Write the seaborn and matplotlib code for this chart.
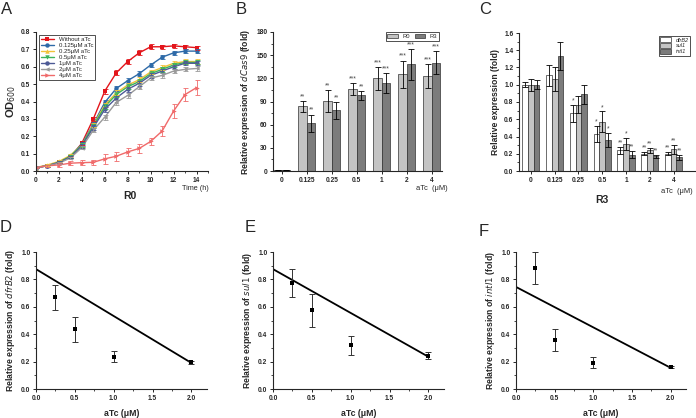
import numpy as np
import pandas as pd
import matplotlib
matplotlib.use('Agg')
import matplotlib.pyplot as plt
import seaborn as sns

# === Data: panel A (growth curves, OD600) ===
time_h = list(range(15))
growth_labels = ['Without aTc', '0.125\u03bcM aTc', '0.25\u03bcM aTc', '0.5\u03bcM aTc',
                 '1\u03bcM aTc', '2\u03bcM aTc', '4\u03bcM aTc']
od_without = [0.02, 0.03, 0.05, 0.08, 0.16, 0.30, 0.46, 0.565, 0.63, 0.68, 0.715, 0.715, 0.72, 0.715, 0.71]
od_0125 = [0.02, 0.03, 0.05, 0.085, 0.155, 0.27, 0.395, 0.475, 0.52, 0.56, 0.61, 0.655, 0.68, 0.69, 0.69]
od_025 = [0.02, 0.035, 0.055, 0.09, 0.15, 0.265, 0.38, 0.45, 0.495, 0.525, 0.57, 0.595, 0.62, 0.63, 0.63]
od_05 = [0.02, 0.03, 0.05, 0.085, 0.15, 0.26, 0.37, 0.44, 0.485, 0.515, 0.56, 0.585, 0.61, 0.625, 0.625]
od_1 = [0.02, 0.03, 0.05, 0.08, 0.145, 0.25, 0.355, 0.42, 0.47, 0.505, 0.55, 0.575, 0.60, 0.62, 0.62]
od_2 = [0.02, 0.03, 0.045, 0.075, 0.135, 0.235, 0.31, 0.395, 0.435, 0.485, 0.535, 0.55, 0.575, 0.585, 0.59]
od_4 = [0.02, 0.03, 0.035, 0.045, 0.048, 0.05, 0.07, 0.085, 0.11, 0.13, 0.17, 0.23, 0.345, 0.44, 0.48]
od_err = [0.005, 0.005, 0.006, 0.008, 0.01, 0.012, 0.014, 0.014, 0.014, 0.015, 0.014, 0.013, 0.012, 0.012, 0.012]
od4_err = [0.005, 0.005, 0.01, 0.012, 0.015, 0.015, 0.03, 0.025, 0.025, 0.025, 0.02, 0.03, 0.04, 0.035, 0.045]

# === Data: panel B (dCas9 expression) ===
atc_cats = ['0', '0.125', '0.25', '0.5', '1', '2', '4']
dcas9_r0 = [1, 84, 91, 106, 120, 125, 123]
dcas9_r3 = [1, 62, 78.5, 98, 114, 138, 140]
dcas9_r0_err = [0, 7, 14, 8, 15, 18, 15]
dcas9_r3_err = [0, 11, 11, 6, 13, 20, 15]
dcas9_r0_sig = ['', '**', '**', '***', '***', '***', '***']
dcas9_r3_sig = ['', '**', '**', '**', '***', '***', '***']

# === Data: panel C (resistance genes in R3) ===
dfrb2 = [1.0, 1.11, 0.67, 0.43, 0.24, 0.20, 0.20]
sul1 = [1.0, 1.07, 0.77, 0.57, 0.31, 0.24, 0.25]
inti1 = [1.0, 1.33, 0.89, 0.36, 0.19, 0.17, 0.16]
dfrb2_err = [0.03, 0.12, 0.10, 0.09, 0.04, 0.02, 0.02]
sul1_err = [0.07, 0.14, 0.10, 0.12, 0.07, 0.03, 0.05]
inti1_err = [0.05, 0.16, 0.11, 0.08, 0.04, 0.02, 0.03]
dfrb2_sig = ['', '', '*', '*', '**', '**', '**']
sul1_sig = ['', '', '', '*', '*', '**', '**']
inti1_sig = ['', '', '', '*', '**', '**', '**']

# === Data: panels D-F (dose response with line) ===
dose = [0.25, 0.5, 1.0, 2.0]
d_vals = [0.67, 0.435, 0.235, 0.195]
d_err = [0.09, 0.09, 0.04, 0.01]
e_vals = [0.775, 0.575, 0.318, 0.242]
e_err = [0.1, 0.12, 0.068, 0.025]
f_vals = [0.885, 0.36, 0.19, 0.16]
f_err = [0.115, 0.08, 0.04, 0.01]
line_x = [0.0, 2.0]
d_line = [0.875, 0.19]
e_line = [0.875, 0.235]
f_line = [0.745, 0.155]

sns.set_style('ticks')
plt.rcParams['font.family'] = ['Liberation Sans', 'DejaVu Sans']
plt.rcParams['axes.linewidth'] = 0.8
plt.rcParams['xtick.major.width'] = 0.7
plt.rcParams['ytick.major.width'] = 0.7
plt.rcParams['xtick.major.size'] = 2.5
plt.rcParams['ytick.major.size'] = 2.5
plt.rcParams['xtick.minor.size'] = 1.5
plt.rcParams['ytick.minor.size'] = 1.5

TICK = 4.8
LAB = 6.2

fig = plt.figure(figsize=(6.96, 4.18), dpi=100)
W, H = 696, 418


def add_ax(l, t, r, b):
    return fig.add_axes([l / W, (H - b) / H, (r - l) / W, (b - t) / H])


def style_ticks(ax):
    for lab in ax.get_xticklabels() + ax.get_yticklabels():
        lab.set_fontsize(TICK)
        lab.set_fontweight('bold')
    ax.tick_params(pad=1.5)
    sns.despine(ax=ax)


# === Panel A ===
axA = add_ax(36, 32, 208, 171)
series = [od_without, od_0125, od_025, od_05, od_1, od_2, od_4]
colorsA = ['#e3151b', '#2e6aa8', '#f2c23a', '#3db35a', '#4d5a96', '#9a9a9a', '#f06a6a']
markersA = ['s', 'o', '^', 'v', 'o', '<', '>']
dfA = pd.DataFrame({'time': time_h * 7,
                    'od': sum(series, []),
                    'cond': sum([[g] * 15 for g in growth_labels], [])})
sns.lineplot(data=dfA, x='time', y='od', hue='cond', style='cond', palette=colorsA,
             markers=markersA, dashes=False, hue_order=growth_labels, style_order=growth_labels,
             linewidth=1.0, markersize=3.2, markeredgewidth=0, ax=axA, legend=True)
for vals, col in zip(series, colorsA):
    err = od4_err if vals is od_4 else od_err
    axA.errorbar(time_h, vals, yerr=err, fmt='none', ecolor=col, elinewidth=0.6, capsize=1.8, capthick=0.6)
axA.set_xlim(0, 15)
axA.set_ylim(0, 0.8)
axA.set_xticks(range(0, 15, 2))
axA.set_yticks(np.arange(0, 0.81, 0.1))
axA.set_yticklabels([f'{v:.1f}' for v in np.arange(0, 0.81, 0.1)])
axA.xaxis.set_minor_locator(matplotlib.ticker.MultipleLocator(1))
axA.set_xlabel('')
axA.set_ylabel('OD$_{600}$', fontsize=8, fontweight='bold', labelpad=2)
leg = axA.legend(loc='upper left', fontsize=4.3, frameon=True, fancybox=False, edgecolor='black',
                 handlelength=2.2, borderpad=0.3, labelspacing=0.15, borderaxespad=0.5)
leg.get_frame().set_linewidth(0.6)
style_ticks(axA)
fig.text(195 / W, 1 - 189 / H, 'Time (h)', fontsize=5.2, ha='center', va='center')
fig.text(130 / W, 1 - 196 / H, 'R0', fontsize=7.5, fontweight='bold', ha='center', va='center')

# === Panel B ===
axB = add_ax(273, 32, 442, 171)
dfB = pd.DataFrame({'conc': atc_cats * 2, 'val': dcas9_r0 + dcas9_r3,
                    'grp': ['R0'] * 7 + ['R3'] * 7})
sns.barplot(data=dfB, x='conc', y='val', hue='grp', order=atc_cats, palette=['#c4c4c4', '#7c7c7c'],
            edgecolor='#333333', linewidth=0.5, width=0.68, errorbar=None, ax=axB)
for cont, errs, sigs in zip(axB.containers, [dcas9_r0_err, dcas9_r3_err], [dcas9_r0_sig, dcas9_r3_sig]):
    xs = [p.get_x() + p.get_width() / 2 for p in cont]
    hs = [p.get_height() for p in cont]
    axB.errorbar(xs, hs, yerr=errs, fmt='none', ecolor='black', elinewidth=0.6, capsize=2, capthick=0.6)
    for x, h, e, s in zip(xs, hs, errs, sigs):
        if s:
            axB.text(x, h + e + 1, s, fontsize=4.8, ha='center', va='bottom', color='#444444')
axB.set_xlim(-0.35, 6.4)
axB.set_ylim(0, 180)
axB.set_yticks(range(0, 181, 30))
axB.yaxis.set_minor_locator(matplotlib.ticker.MultipleLocator(15))
axB.set_xlabel('')
axB.set_ylabel('Relative expression of $\\it{dCas9}$ (fold)', fontsize=LAB, fontweight='bold', labelpad=3)
legB = axB.legend(loc='upper right', ncol=2, fontsize=4.2, frameon=True, fancybox=False, edgecolor='black',
                  handlelength=1.8, handleheight=0.8, borderpad=0.3, columnspacing=0.8,
                  bbox_to_anchor=(1.0, 1.02))
legB.get_frame().set_linewidth(0.6)
style_ticks(axB)
fig.text(432 / W, 1 - 189 / H, 'aTc  (\u03bcM)', fontsize=5.4, ha='center', va='center')

# === Panel C ===
axC = add_ax(519, 33, 695, 171)
genes = ['dfrB2', 'sul1', 'intI1']
dfC = pd.DataFrame({'conc': atc_cats * 3, 'val': dfrb2 + sul1 + inti1,
                    'gene': sum([[g] * 7 for g in genes], [])})
sns.barplot(data=dfC, x='conc', y='val', hue='gene', order=atc_cats, hue_order=genes,
            palette=['#ffffff', '#c4c4c4', '#7c7c7c'], edgecolor='#333333', linewidth=0.5,
            width=0.72, errorbar=None, ax=axC)
for cont, errs, sigs in zip(axC.containers, [dfrb2_err, sul1_err, inti1_err], [dfrb2_sig, sul1_sig, inti1_sig]):
    xs = [p.get_x() + p.get_width() / 2 for p in cont]
    hs = [p.get_height() for p in cont]
    axC.errorbar(xs, hs, yerr=errs, fmt='none', ecolor='black', elinewidth=0.6, capsize=2, capthick=0.6)
    for x, h, e, s in zip(xs, hs, errs, sigs):
        if s:
            axC.text(x, h + e + 0.005, s, fontsize=4.8, ha='center', va='bottom', color='#444444')
axC.set_xlim(-0.5, 6.9)
axC.set_ylim(0, 1.6)
axC.set_yticks(np.arange(0, 1.61, 0.2))
axC.set_yticklabels([f'{v:.1f}' for v in np.arange(0, 1.61, 0.2)])
axC.yaxis.set_minor_locator(matplotlib.ticker.MultipleLocator(0.1))
axC.set_xlabel('')
axC.set_ylabel('Relative expression (fold)', fontsize=LAB, fontweight='bold', labelpad=3)
legC = axC.legend(loc='upper right', frameon=True, fancybox=False, edgecolor='black',
                  handlelength=2.0, handleheight=0.9, borderpad=0.3, labelspacing=0.1,
                  bbox_to_anchor=(0.99, 1.0), prop={'style': 'italic', 'size': 4})
legC.get_frame().set_linewidth(0.6)
style_ticks(axC)
fig.text(677 / W, 1 - 192 / H, 'aTc  (\u03bcM)', fontsize=5.4, ha='center', va='center')
fig.text(602 / W, 1 - 200 / H, 'R3', fontsize=7.5, fontweight='bold', ha='center', va='center')

# === Panels D-F ===
panels = [
    ((36, 252, 207, 389), d_vals, d_err, d_line, 'dfrB2'),
    ((273, 252, 444, 389), e_vals, e_err, e_line, 'sul1'),
    ((516, 252, 686, 389), f_vals, f_err, f_line, 'intI1'),
]
for box, vals, errs, line_y, gene in panels:
    ax = add_ax(*box)
    sns.lineplot(x=line_x, y=line_y, color='black', linewidth=1.3, ax=ax)
    ax.errorbar(dose, vals, yerr=errs, fmt='none', ecolor='#333333', elinewidth=0.7, capsize=2.5, capthick=0.7)
    sns.scatterplot(x=dose, y=vals, marker='s', s=8, color='black', edgecolor='none', ax=ax, zorder=5)
    ax.set_xlim(0, 2.2)
    ax.set_ylim(0, 1.0)
    ax.set_xticks(np.arange(0, 2.01, 0.5))
    ax.set_xticklabels([f'{v:.1f}' for v in np.arange(0, 2.01, 0.5)])
    ax.set_yticks(np.arange(0, 1.01, 0.2))
    ax.set_yticklabels([f'{v:.1f}' for v in np.arange(0, 1.01, 0.2)])
    ax.xaxis.set_minor_locator(matplotlib.ticker.MultipleLocator(0.25))
    ax.yaxis.set_minor_locator(matplotlib.ticker.MultipleLocator(0.1))
    ax.set_xlabel('aTc (\u03bcM)', fontsize=6.3, fontweight='bold', labelpad=5)
    ax.set_ylabel(f'Relative expression of $\\it{{{gene}}}$ (fold)', fontsize=LAB, fontweight='bold', labelpad=3)
    style_ticks(ax)

# === Panel letters ===
for lx, ly, letter in [(7, 9, 'A'), (241, 9, 'B'), (485, 9, 'C'),
                       (6, 227, 'D'), (250, 227, 'E'), (484, 232, 'F')]:
    fig.text(lx / W, 1 - ly / H, letter, fontsize=12, ha='center', va='center')

fig.savefig('out.png', dpi=100)
